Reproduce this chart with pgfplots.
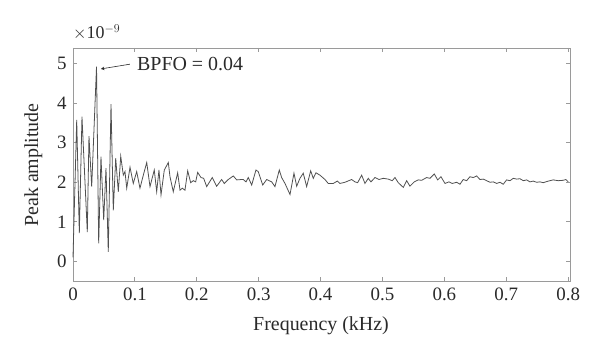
\documentclass[border=0pt]{standalone}
\usepackage{fontspec}
\setmainfont{Liberation Serif}
\usepackage{pgfplots}
\pgfplotsset{compat=1.18}
\usepackage{pgfplotstable}
\definecolor{axisgray}{HTML}{9A9A9A}
\definecolor{linegray}{HTML}{505050}
\definecolor{textgray}{HTML}{2A2A2A}
\pgfplotstableread{
x y
0.0000 0.10
0.0060 3.58
0.0102 0.71
0.0145 3.66
0.0231 0.74
0.0258 3.17
0.0302 1.89
0.0380 4.93
0.0415 0.45
0.0452 2.65
0.0496 1.04
0.0533 2.36
0.0570 0.24
0.0614 3.98
0.0651 1.29
0.0690 2.61
0.0732 1.76
0.0771 2.66
0.0813 2.18
0.0840 2.27
0.0868 1.85
0.0921 2.38
0.0974 1.97
0.1029 2.27
0.1082 1.85
0.1136 2.18
0.1191 2.50
0.1244 1.89
0.1313 2.31
0.1352 1.76
0.1389 2.31
0.1422 1.68
0.1475 2.31
0.1540 2.50
0.1567 2.14
0.1620 1.76
0.1691 2.24
0.1729 1.80
0.1766 1.85
0.1809 1.80
0.1853 2.29
0.1901 1.99
0.1943 2.04
0.1982 2.01
0.2014 2.25
0.2068 2.12
0.2111 2.10
0.2160 1.89
0.2250 2.12
0.2321 1.90
0.2402 2.07
0.2444 1.97
0.2509 2.07
0.2590 2.16
0.2645 2.06
0.2725 2.07
0.2751 2.07
0.2795 2.01
0.2832 2.12
0.2887 1.93
0.2956 2.31
0.2993 2.27
0.3065 1.93
0.3129 2.07
0.3210 2.01
0.3263 1.89
0.3333 2.31
0.3371 2.12
0.3425 1.97
0.3506 1.69
0.3570 2.23
0.3614 1.90
0.3667 2.10
0.3720 2.23
0.3775 1.89
0.3840 2.29
0.3882 2.10
0.3926 2.24
0.3990 2.18
0.4071 2.07
0.4124 1.97
0.4205 1.97
0.4270 2.03
0.4313 1.97
0.4394 2.00
0.4502 2.07
0.4556 2.01
0.4599 1.99
0.4664 2.18
0.4717 1.97
0.4771 2.10
0.4814 2.01
0.4879 2.12
0.4943 2.07
0.5013 2.10
0.5094 2.08
0.5158 2.04
0.5202 2.12
0.5255 1.99
0.5336 1.87
0.5391 2.04
0.5444 1.90
0.5514 2.01
0.5578 2.06
0.5633 2.05
0.5714 2.12
0.5767 2.10
0.5837 2.21
0.5892 2.06
0.5945 2.14
0.6010 1.97
0.6074 2.01
0.6128 1.97
0.6199 2.00
0.6252 1.95
0.6305 2.07
0.6360 2.04
0.6413 2.14
0.6467 2.12
0.6522 2.16
0.6575 2.07
0.6629 2.08
0.6683 2.04
0.6737 2.00
0.6791 2.01
0.6845 1.97
0.6898 2.00
0.6951 1.95
0.7006 2.06
0.7060 2.04
0.7113 2.10
0.7168 2.08
0.7221 2.09
0.7275 2.04
0.7330 2.06
0.7383 2.01
0.7436 2.03
0.7491 2.00
0.7544 2.01
0.7598 1.99
0.7679 2.03
0.7759 2.06
0.7840 2.04
0.7921 2.05
0.7964 2.07
0.8001 2.01
}\spectrum
\begin{document}
\begin{tikzpicture}
\path[use as bounding box] (0,0) rectangle (600bp,358bp);
\begin{axis}[
  at={(73bp,77bp)}, anchor=south west,
  scale only axis, width=497bp, height=233bp,
  xmin=0, xmax=0.803, ymin=-0.5, ymax=5.4,
  xtick={0,0.1,...,0.8}, ytick={0,1,...,5},
  xticklabels={0,0.1,0.2,0.3,0.4,0.5,0.6,0.7,0.8},
  tick align=inside, major tick length=4bp,
  axis line style={axisgray, line width=0.8pt},
  tick style={axisgray, line width=0.8pt},
  /pgf/number format/assume math mode=true,
  ticklabel style={font=\fontsize{19}{21}\selectfont, text=textgray},
  xticklabel style={yshift=-3bp},
  yticklabel style={xshift=-3bp},
  clip=false,
]
\addplot[linegray, line width=0.8pt] table[x=x,y=y] {\spectrum};
\draw[-stealth, textgray, line width=0.6pt] (axis cs:0.092,4.99) -- (axis cs:0.045,4.87);
\node[anchor=west, text=textgray, font=\fontsize{20}{22}\selectfont, inner sep=0pt] at (axis cs:0.1034,5.0) {BPFO = 0.04};
\end{axis}
\node[anchor=base west, text=textgray, inner sep=0pt, font=\fontsize{18}{20}\selectfont] at (73bp,319bp) {$\times$10$^{-9}$};
\node[anchor=base, text=textgray, inner sep=0pt, font=\fontsize{20}{22}\selectfont] at (321bp,28bp) {Frequency (kHz)};
\node[anchor=base, rotate=90, text=textgray, inner sep=0pt, font=\fontsize{20}{22}\selectfont] at (38bp,193bp) {Peak amplitude};
\end{tikzpicture}
\end{document}
